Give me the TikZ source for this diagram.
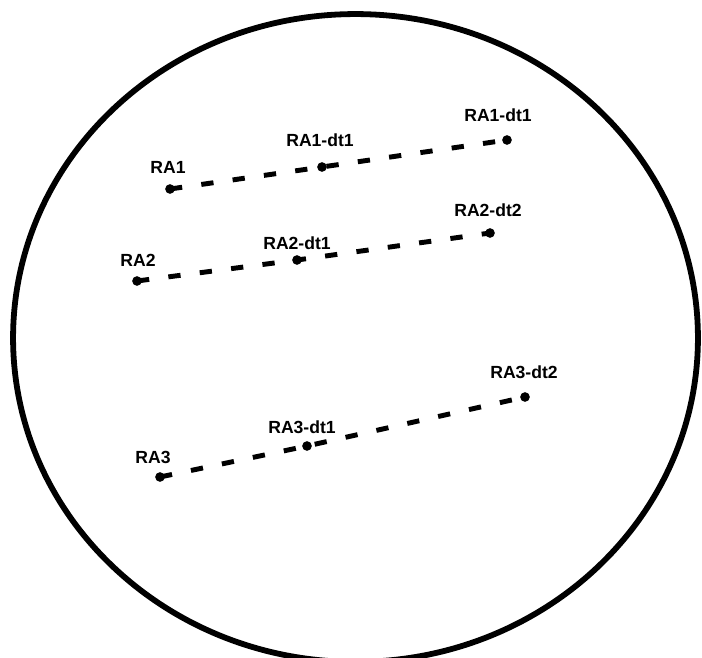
\documentclass[tikz,border=0pt]{standalone}
\usepackage{fontspec}
\setmainfont{Liberation Sans}
\usetikzlibrary{positioning}

\tikzset{
  track/.style={line width=2.8pt, dash pattern=on 7pt off 11pt},
  blip/.style={circle, fill, inner sep=0pt, minimum size=5.5pt},
  tag/.style={font=\bfseries\fontsize{10}{12}\selectfont, inner sep=1pt}
}

\begin{document}
\begin{tikzpicture}[x=0.02cm, y=-0.02cm]
    \useasboundingbox (0,0) rectangle (702,658);

    % Draw the field of view
    \draw[line width=3.3pt] (355.5,338) ellipse [x radius=6.85cm, y radius=6.48cm];

    % Draw the positions of the three objects
    \node[blip] (ra1) at (170,189) {};
    \node[blip] (ra1m) at (322,167) {};
    \node[blip] (ra1e) at (507,140) {};

    \node[blip] (ra2) at (137,281) {};
    \node[blip] (ra2m) at (297,260) {};
    \node[blip] (ra2e) at (490,233) {};

    \node[blip] (ra3) at (160,477) {};
    \node[blip] (ra3m) at (307,446) {};
    \node[blip] (ra3e) at (525,397) {};

    % Draw the tracks
    \draw[track] (ra1.center) -- (ra1m.center) -- (ra1e.center);
    \draw[track] (ra2.center) -- (ra2m.center) -- (ra2e.center);
    \draw[track] (ra3.center) -- (ra3m.center) -- (ra3e.center);

    % Draw the labels
    \node[tag] (l1) at (168,167) {RA1};
    \node[tag] (l1m) at (320,140) {RA1-dt1};
    \node[tag] (l1e) at (498,115) {RA1-dt1};

    \node[tag] (l2) at (138,260) {RA2};
    \node[tag] (l2m) at (297,243) {RA2-dt1};
    \node[tag] (l2e) at (488,210) {RA2-dt2};

    \node[tag] (l3) at (153,457) {RA3};
    \node[tag] (l3m) at (302,427) {RA3-dt1};
    \node[tag] (l3e) at (524,372) {RA3-dt2};
\end{tikzpicture}
\end{document}
